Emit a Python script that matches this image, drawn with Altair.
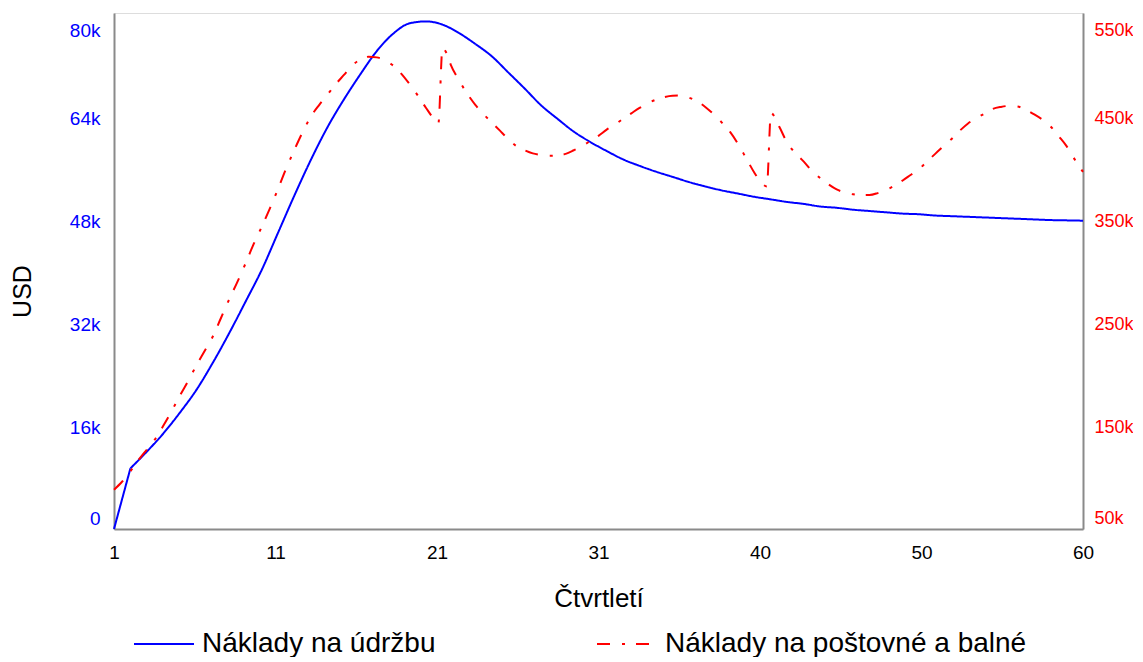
import altair as alt
import pandas as pd

# ---- data ----
S1 = "Náklady na údržbu"
S2 = "Náklady na poštovné a balné"

maint_q = list(range(1, 61))
maint_k = [0, 9.4, 12.0, 14.8, 18.0, 21.5, 25.7, 30.3, 35.2, 40.2,
           46.0, 51.8, 57.3, 62.3, 66.6, 70.5, 74.1, 76.8, 78.4, 78.7,
           78.2, 76.9, 75.2, 73.3, 70.8, 68.3, 65.7, 63.6, 61.6, 60.0,
           58.6, 57.3, 56.3, 55.4, 54.6, 53.8, 53.1, 52.5, 52.0, 51.5,
           51.1, 50.7, 50.4, 50.0, 49.8, 49.5, 49.3, 49.1, 48.9, 48.8,
           48.6, 48.5, 48.4, 48.3, 48.2, 48.1, 48.0, 47.9, 47.85, 47.8]

post_q = [1, 1.5, 2, 2.5, 3, 3.5, 4, 4.5, 5, 5.5, 6, 6.5, 7, 7.5, 8, 8.5, 9, 9.5,
          10, 10.5, 11, 11.5, 12, 12.5, 13, 13.5, 14, 14.5, 15, 15.5, 16, 16.5,
          17, 17.5, 18, 18.5, 19, 19.5, 20, 20.5, 20.75, 21, 21.25, 21.5, 22,
          22.5, 23, 23.5, 24, 24.5, 25, 25.5, 26, 26.5, 27, 27.5, 28, 28.5, 29,
          29.5, 30, 30.5, 31, 31.5, 32, 32.5, 33, 33.5, 34, 34.5, 35, 35.5, 36,
          36.5, 37, 37.5, 38, 38.5, 39, 39.5, 40, 40.5, 40.75, 41, 41.5, 42,
          42.5, 43, 43.5, 44, 44.5, 45, 45.5, 46, 46.5, 47, 47.5, 48, 48.5, 49,
          49.5, 50, 50.5, 51, 51.5, 52, 52.5, 53, 53.5, 54, 54.5, 55, 55.5, 56,
          56.5, 57, 57.5, 58, 58.5, 59, 59.5, 60]
post_k = [88, 96, 106, 117, 127, 137, 150, 164, 179, 193, 208, 222, 236, 254,
          272, 289, 307, 326, 343, 361, 380, 400, 418, 435, 450, 461, 471, 481,
          490, 499, 505, 507.6, 507, 504, 499, 491, 481, 470, 458, 447, 443,
          516, 511, 500, 485, 472, 461, 452, 444, 436, 428, 421, 417, 414,
          412.5, 411.7, 412, 413.5, 417, 421, 426, 431, 437, 442, 447.5, 452.8,
          458, 462.5, 466, 468.5, 469.8, 470, 468, 464.5, 459, 452, 444, 435,
          423, 409, 395, 384, 382, 453, 440, 424, 414, 406, 397, 390, 384, 379,
          376, 374.3, 373.5, 373.6, 375.5, 378.5, 382.5, 387.5, 393, 398.5,
          406, 413.5, 421, 428, 436, 443, 448, 452.5, 457, 459, 460, 459.5,
          456.5, 452, 447, 440.5, 431, 421, 408, 396]

x_ticks = [1, 10.8333, 20.6667, 30.5, 40.3333, 50.1667, 60]
left_ticks = [0, 16000, 32000, 48000, 64000, 80000]
right_ticks = [50000, 150000, 250000, 350000, 450000, 550000]

df1 = pd.DataFrame({"q": maint_q, "v": [k * 1000 for k in maint_k], "s": S1})
df2 = pd.DataFrame({"q": post_q, "v": [k * 1000 for k in post_k], "s": S2})

FONT = "Liberation Sans"
AXIS_GRAY = "#8a8a8a"
K_LABEL = "datum.value == 0 ? '0' : format(datum.value / 1000, 'd') + 'k'"

color_scale = alt.Scale(domain=[S1, S2], range=["#0000FF", "#FF0000"])
dash_scale = alt.Scale(domain=[S1, S2], range=[[1, 0], [13, 12, 3, 11]])

legend = alt.Legend(
    title=None, orient="none", legendX=19, legendY=600, direction="horizontal",
    symbolType="stroke", symbolSize=3600, symbolStrokeWidth=2,
    labelFont=FONT, labelFontSize=28, labelColor="#000000", labelOffset=7,
    columnPadding=157, padding=0, labelLimit=0,
)

x_enc = alt.X(
    "q:Q",
    scale=alt.Scale(domain=[1, 60], nice=False, zero=False),
    axis=alt.Axis(
        values=x_ticks, labelExpr="round(datum.value)", title="Čtvrtletí",
        grid=False, ticks=False, domainColor=AXIS_GRAY, domainWidth=2,
        labelFont=FONT, labelFontSize=19, labelColor="#000000", labelPadding=14,
        titleFont=FONT, titleFontSize=26, titleFontWeight="normal",
        titleColor="#000000", titleY=69, titleBaseline="middle",
        labelOverlap=False, labelBound=False, labelFlush=False,
    ),
)

flush_offset = {
    "condition": [
        {"test": "datum.index == 1", "value": 17},
        {"test": "datum.index == 0", "value": -11},
    ],
    "value": 2,
}

left_y = alt.Y(
    "v:Q",
    scale=alt.Scale(domain=[0, 80000], nice=False, zero=False),
    axis=alt.Axis(
        orient="left", values=left_ticks, labelExpr=K_LABEL, grid=False, ticks=False,
        domainColor=AXIS_GRAY, domainWidth=2,
        labelFont=FONT, labelFontSize=19, labelColor="#0000FF", labelPadding=14,
        labelOffset=flush_offset,
        labelOverlap=False, labelBound=False, labelFlush=False,
        title="USD", titleFont=FONT, titleFontSize=25, titleFontWeight="normal",
        titleColor="#000000", titleAngle=270, titleX=-92, titleY=278,
        titleAlign="center", titleBaseline="middle",
    ),
)

color_enc = alt.Color("s:N", scale=color_scale, legend=legend)
dash_enc = alt.StrokeDash("s:N", scale=dash_scale, legend=legend)

base1 = alt.Chart(df1)
# first (steep) quarter drawn straight, the rest smooth
left_start = base1.transform_filter("datum.q <= 2").mark_line(
    strokeWidth=2, strokeCap="butt"
).encode(x=x_enc, y=left_y, color=color_enc, strokeDash=dash_enc)
left_rest = base1.transform_filter("datum.q >= 2").mark_line(
    strokeWidth=2, strokeCap="butt", interpolate="monotone"
).encode(x=x_enc, y=left_y, color=color_enc, strokeDash=dash_enc)

right = alt.Chart(df2).mark_line(strokeWidth=2, strokeCap="butt", interpolate="monotone").encode(
    x=x_enc,
    y=alt.Y(
        "v:Q",
        scale=alt.Scale(domain=[50000, 550000], nice=False, zero=False),
        axis=alt.Axis(
            orient="right", values=right_ticks, labelExpr=K_LABEL, grid=False, ticks=False,
            domainColor=AXIS_GRAY, domainWidth=2,
            labelFont=FONT, labelFontSize=18, labelColor="#FF0000", labelPadding=11,
            labelOffset=flush_offset,
            labelOverlap=False, labelBound=False, labelFlush=False,
            title=None,
        ),
    ),
    color=color_enc,
    strokeDash=dash_enc,
)

left = alt.layer(left_start, left_rest)

chart = (
    alt.layer(left, right)
    .resolve_scale(y="independent")
    .properties(
        width=969, height=516,
        autosize=alt.AutoSizeParams(type="none"),
        padding={"left": 106, "top": 5, "right": 50, "bottom": 128},
    )
    .configure_view(strokeWidth=0)
    .configure(background="#ffffff")
)

chart.save("out.html", embed_options={"renderer": "svg", "actions": False})
